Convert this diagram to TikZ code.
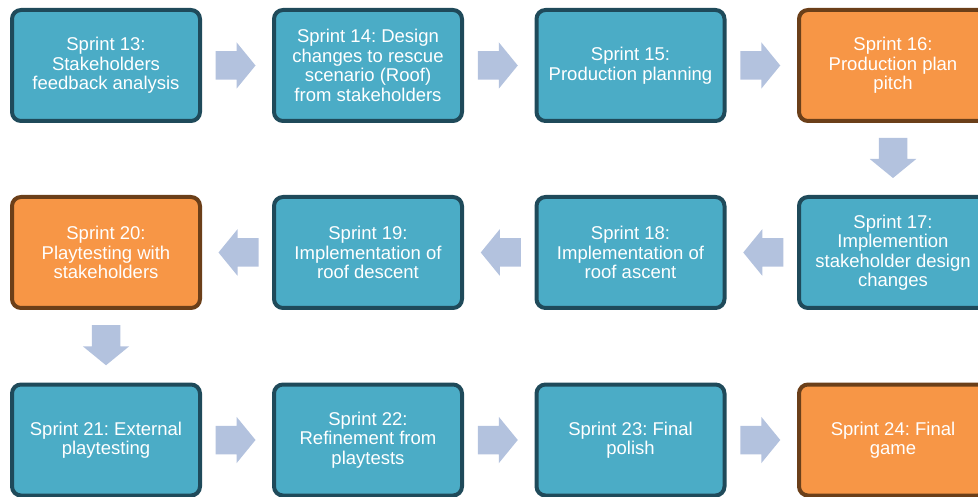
\documentclass[tikz,border=0pt]{standalone}
\usepackage{fontspec}
\setmainfont{Liberation Sans}
\usetikzlibrary{calc}
\frenchspacing

\definecolor{tealfill}{HTML}{4BACC6}
\definecolor{tealline}{HTML}{1F4A5A}
\definecolor{orangefill}{HTML}{F79646}
\definecolor{orangeline}{HTML}{6B3F19}
\definecolor{arrowfill}{HTML}{B3C2DE}

\tikzset{
  sprint/.style={rectangle, rounded corners=9pt, line width=4pt,
    minimum width=188pt, minimum height=111pt, inner sep=2pt,
    align=center, text=white,
    font=\fontsize{18.5pt}{19.5pt}\selectfont},
  work/.style={sprint, draw=tealline, fill=tealfill},
  review/.style={sprint, draw=orangeline, fill=orangefill},
  blockarrow/.pic={
    \fill[arrowfill] (-20,-14.25) -- (1,-14.25) -- (1,-23.25) -- (20,0)
      -- (1,23.25) -- (1,14.25) -- (-20,14.25) -- cycle;
  }
}

\begin{document}
\begin{tikzpicture}[x=1pt, y=-1pt]
  \useasboundingbox (0,0) rectangle (978,497);
  \clip (0,0) rectangle (978,497);

  % first row, left to right
  \node[work]   (s13) at (106,65.5)   {Sprint 13:\\Stakeholders\\feedback analysis};
  \node[work]   (s14) at (368,65.5)   {Sprint 14: Design\\changes to rescue\\scenario (Roof)\\from stakeholders};
  \node[work]   (s15) at (630.5,65.5) {Sprint 15:\\Production planning};
  \node[review] (s16) at (893,65.5)   {Sprint 16:\\Production plan\\pitch};

  % second row, right to left
  \node[work]   (s17) at (893,252.5)   {Sprint 17:\\Implemention\\stakeholder design\\changes};
  \node[work]   (s18) at (630.5,252.5) {Sprint 18:\\Implementation of\\roof ascent};
  \node[work]   (s19) at (368,252.5)   {Sprint 19:\\Implementation of\\roof descent};
  \node[review] (s20) at (106,252.5)   {Sprint 20:\\Playtesting with\\stakeholders};

  % third row, left to right
  \node[work]   (s21) at (106,440)   {Sprint 21: External\\playtesting};
  \node[work]   (s22) at (368,440)   {Sprint 22:\\Refinement from\\playtests};
  \node[work]   (s23) at (630.5,440) {Sprint 23: Final\\polish};
  \node[review] (s24) at (893,440)   {Sprint 24: Final\\game};

  % block arrows between consecutive sprints
  \pic at ($(s13.east)!0.5!(s14.west)+(-1.5,0)$) {blockarrow};
  \pic at ($(s14.east)!0.5!(s15.west)+(-1.5,0)$) {blockarrow};
  \pic at ($(s15.east)!0.5!(s16.west)+(-1.5,0)$) {blockarrow};
  \pic[rotate=-90] at ($(s16.south)!0.5!(s17.north)+(0,-1)$) {blockarrow};
  \pic[rotate=180] at ($(s17.west)!0.5!(s18.east)+(1.5,0)$) {blockarrow};
  \pic[rotate=180] at ($(s18.west)!0.5!(s19.east)+(1.5,0)$) {blockarrow};
  \pic[rotate=180] at ($(s19.west)!0.5!(s20.east)+(1.5,0)$) {blockarrow};
  \pic[rotate=-90] at ($(s20.south)!0.5!(s21.north)+(0,-1)$) {blockarrow};
  \pic at ($(s21.east)!0.5!(s22.west)+(-1.5,0)$) {blockarrow};
  \pic at ($(s22.east)!0.5!(s23.west)+(-1.5,0)$) {blockarrow};
  \pic at ($(s23.east)!0.5!(s24.west)+(-1.5,0)$) {blockarrow};
\end{tikzpicture}
\end{document}
